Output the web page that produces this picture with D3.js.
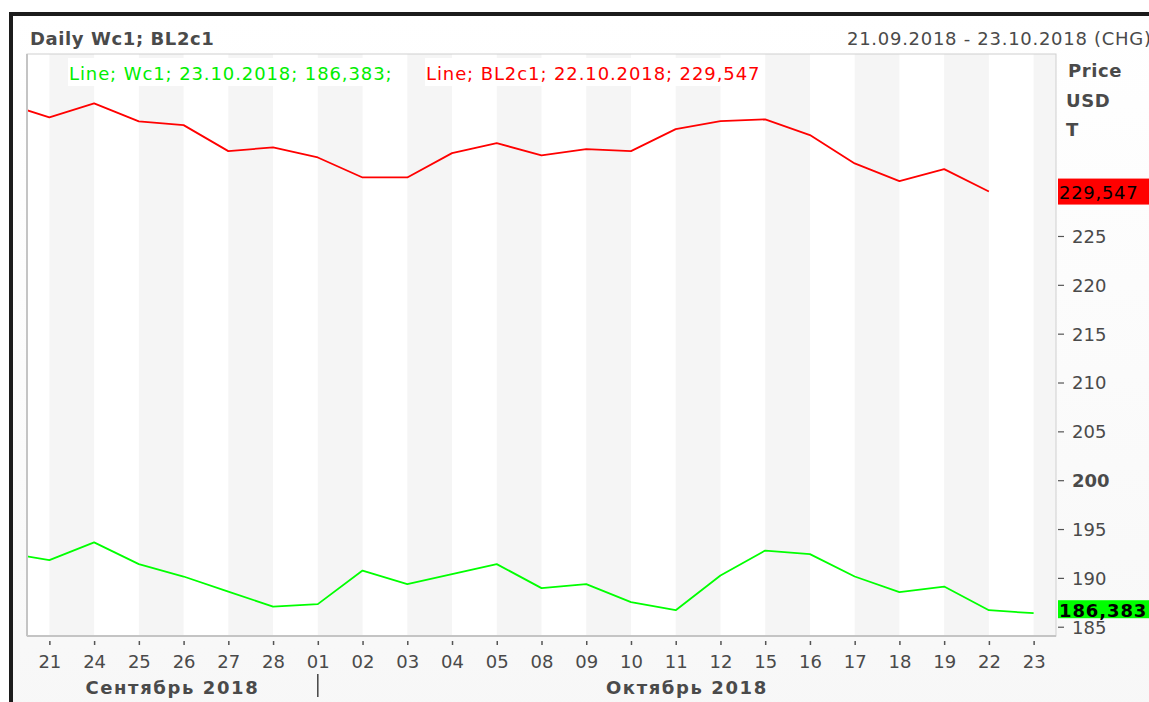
<!DOCTYPE html>
<html><head><meta charset="utf-8">
<script src="https://cdn.jsdelivr.net/npm/d3@7"></script>
<style>
html,body{margin:0;padding:0;background:#fff;}
svg{display:block;font-family:"DejaVu Sans",Verdana,sans-serif;}
</style></head><body>
<svg id="c" width="1149" height="702"></svg>
<script>
// ---- data ----
const dates = ["21","24","25","26","27","28","01","02","03","04","05","08","09","10","11","12","15","16","17","18","19","22","23"];
const months = [{label:"Сентябрь 2018", from:0, to:5},{label:"Октябрь 2018", from:6, to:22}];
// value of the previous day (20.09), outside the visible window
const leadRed = 238.6;
const leadGreen = 192.6;
const redValues = [237.14,238.58,236.73,236.35,233.69,234.07,233.04,230.99,230.99,233.48,234.5,233.25,233.89,233.69,235.94,236.76,236.94,235.33,232.43,230.61,231.84,229.547];
const greenValues = [191.82,193.63,191.41,190.14,188.6,187.06,187.31,190.75,189.36,190.38,191.41,188.95,189.36,187.51,186.69,190.24,192.8,192.43,190.14,188.54,189.11,186.69,186.383];
const yTicks = [185,190,195,200,205,210,215,220,225,230];
const yLabelled = [185,190,195,200,205,210,215,220,225];
const title = "Daily Wc1; BL2c1";
const rangeText = "21.09.2018 - 23.10.2018 (CHG)";
const legendGreen = "Line; Wc1; 23.10.2018; 186,383;";
const legendRed = "Line; BL2c1; 22.10.2018; 229,547";
const lastRed = "229,547", lastGreen = "186,383";
const unitLabels = ["Price","USD","T"];

// ---- layout ----
const svg = d3.select("#c");
const P = {l:27, t:54, r:1056, b:636};
const FS = 18;
const txt = "#4a4a4a";

const defs = svg.append("defs");
const grad = defs.append("linearGradient").attr("id","bg").attr("x1",0).attr("y1",0).attr("x2",0).attr("y2",1);
grad.append("stop").attr("offset","0").attr("stop-color","#ffffff");
grad.append("stop").attr("offset","1").attr("stop-color","#f7f7f7");
defs.append("clipPath").attr("id","pc").append("rect")
  .attr("x",P.l).attr("y",P.t).attr("width",P.r-P.l).attr("height",P.b-P.t);

svg.append("rect").attr("x",0).attr("y",0).attr("width",1149).attr("height",702).attr("fill","#fff");
svg.append("rect").attr("x",11).attr("y",14).attr("width",1160).attr("height",720).attr("fill","url(#bg)")
  .attr("stroke","#1c1c1c").attr("stroke-width",4);

const x = d3.scalePoint().domain(d3.range(dates.length)).range([P.l,P.r]).padding(0.5);
const step = x.step();
const y = d3.scaleLinear().domain([184.05,243.63]).range([P.b,P.t]);

// plot bg + stripes
svg.append("rect").attr("x",P.l).attr("y",P.t).attr("width",P.r-P.l).attr("height",P.b-P.t).attr("fill","#fff");
const stripes = d3.range(0,dates.length,2);
svg.append("g").attr("clip-path","url(#pc)").selectAll("rect").data(stripes).join("rect")
  .attr("x",i=>x(i)).attr("y",P.t)
  .attr("width",i=> (i+1<dates.length? x(i+1): P.r) - x(i))
  .attr("height",P.b-P.t).attr("fill","#f5f5f5");

// lines
const line = d3.line().x(d=>d[0]).y(d=>y(d[1]));
const redPts = [[x(0)-step, leadRed]].concat(redValues.map((v,i)=>[x(i),v]));
const greenPts = [[x(0)-step, leadGreen]].concat(greenValues.map((v,i)=>[x(i),v]));
const lg = svg.append("g").attr("clip-path","url(#pc)");
lg.append("path").attr("d",line(redPts)).attr("fill","none").attr("stroke","#ff0000").attr("stroke-width",1.8).attr("stroke-linejoin","round");
lg.append("path").attr("d",line(greenPts)).attr("fill","none").attr("stroke","#00ff00").attr("stroke-width",1.8).attr("stroke-linejoin","round");

// plot border
svg.append("rect").attr("x",P.l).attr("y",P.t).attr("width",P.r-P.l).attr("height",P.b-P.t)
  .attr("fill","none").attr("stroke","#cfcfcf").attr("stroke-width",1);
svg.append("line").attr("x1",P.l).attr("x2",P.l).attr("y1",P.t).attr("y2",P.b).attr("stroke","#c4c4c4").attr("stroke-width",2);
svg.append("line").attr("x1",P.l).attr("x2",P.r).attr("y1",P.b).attr("y2",P.b).attr("stroke","#c4c4c4").attr("stroke-width",2);

// legend
function legend(str, x0, color){
  const t = svg.append("text").attr("x",x0).attr("y",80).attr("fill",color).attr("font-size",FS)
    .attr("letter-spacing",0.9).text(str);
  const bb = t.node().getBBox();
  svg.insert("rect", ()=>t.node()).attr("x",bb.x-1).attr("y",58).attr("width",bb.width+1).attr("height",28).attr("fill","#fff");
}
legend(legendGreen, 69, "#00ee00");
legend(legendRed, 426, "#ff0000");

// title & range
svg.append("text").attr("x",30).attr("y",45).attr("font-size",FS).attr("font-weight","bold").attr("fill",txt)
  .attr("letter-spacing",0.6).text(title);
svg.append("text").attr("x",847).attr("y",45).attr("font-size",FS).attr("fill",txt)
  .attr("letter-spacing",0.72).text(rangeText);

// right axis
const ya = svg.append("g").attr("transform",`translate(${P.r},0)`)
  .call(d3.axisRight(y).tickValues(yTicks).tickSize(7).tickPadding(9)
    .tickFormat(d=> yLabelled.includes(d) ? d3.format("d")(d) : ""));
ya.select(".domain").remove();
ya.selectAll(".tick line").attr("stroke","#555").attr("stroke-width",1.2).attr("x1",2).attr("x2",8);
ya.selectAll(".tick text").attr("font-size",FS).attr("font-family","DejaVu Sans, Verdana, sans-serif").attr("fill",txt)
  .attr("font-weight",d=>d===200?"bold":"normal").attr("dy","0.36em");
unitLabels.forEach((s,i)=>{
  svg.append("text").attr("x",i===0?1068:1066).attr("y",77+i*29.5).attr("font-size",FS).attr("font-weight","bold")
    .attr("letter-spacing",0.6).attr("fill",txt).text(s);
});

// last value boxes
const rv = y(redValues[redValues.length-1]);
svg.append("rect").attr("x",1058).attr("y",rv-13).attr("width",95).attr("height",26).attr("fill","#ff0000");
svg.append("text").attr("x",1059).attr("y",rv+7).attr("font-size",FS).attr("letter-spacing",0.7).attr("fill","#000").text(lastRed);
const gv = y(greenValues[greenValues.length-1]);
svg.append("rect").attr("x",1058).attr("y",gv-13).attr("width",95).attr("height",18).attr("fill","#00ff00");
svg.append("text").attr("x",1059).attr("y",gv+3.5).attr("font-size",FS).attr("font-weight","bold").attr("letter-spacing",0.9).attr("fill","#000").text(lastGreen);

// bottom axis
const xa = svg.append("g").attr("transform",`translate(0,${P.b+5})`)
  .call(d3.axisBottom(x).tickSize(4).tickPadding(10).tickFormat(i=>dates[i]));
xa.select(".domain").remove();
xa.selectAll(".tick line").attr("stroke","#555").attr("stroke-width",1.5);
xa.selectAll(".tick text").attr("font-size",FS).attr("font-family","DejaVu Sans, Verdana, sans-serif").attr("fill",txt);

// months
months.forEach((m,k)=>{
  const x0 = k===0 ? P.l : x(m.from);
  const x1 = k===months.length-1 ? P.r : x(months[k+1].from);
  svg.append("text").attr("x",(x0+x1)/2).attr("y",694).attr("text-anchor","middle")
    .attr("font-size",FS).attr("font-weight","bold").attr("letter-spacing",1.6).attr("fill",txt).text(m.label);
  if(k>0) svg.append("line").attr("x1",x0).attr("x2",x0).attr("y1",674).attr("y2",697).attr("stroke","#444").attr("stroke-width",1.5);
});
</script></body></html>
